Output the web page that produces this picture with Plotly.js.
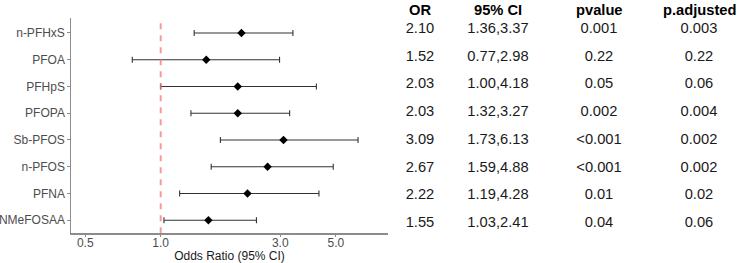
<!DOCTYPE html>
<html>
<head>
<meta charset="utf-8">
<script src="https://cdn.plot.ly/plotly-3.0.1.min.js"></script>
<style>html,body{margin:0;padding:0;background:#fff;}#chart{width:740px;height:263px;}</style>
</head>
<body>
<div id="chart"></div>
<script>
// ---- data (top row first) ----
const compounds = ["n-PFHxS", "PFOA", "PFHpS", "PFOPA", "Sb-PFOS", "n-PFOS", "PFNA", "NMeFOSAA"];
const oddsRatio = [2.10, 1.52, 2.03, 2.03, 3.09, 2.67, 2.22, 1.55];
const ciLow     = [1.36, 0.77, 1.00, 1.32, 1.73, 1.59, 1.19, 1.03];
const ciHigh    = [3.37, 2.98, 4.18, 3.27, 6.13, 4.88, 4.28, 2.41];
const pValue    = ["0.001", "0.22", "0.05", "0.002", "<0.001", "<0.001", "0.01", "0.04"];
const pAdjusted = ["0.003", "0.22", "0.06", "0.004", "0.002", "0.002", "0.02", "0.06"];
const orLabels  = ["2.10", "1.52", "2.03", "2.03", "3.09", "2.67", "2.22", "1.55"];
const ciLabels  = ["1.36,3.37", "0.77,2.98", "1.00,4.18", "1.32,3.27", "1.73,6.13", "1.59,4.88", "1.19,4.28", "1.03,2.41"];
const tableHeaders = ["OR", "95% CI", "pvalue", "p.adjusted"];
const xTickVals = [0.5, 1, 3, 5];
const xTickText = ["0.5", "1.0", "3.0", "5.0"];
const refLine = 1;

// ---- layout constants ----
const W = 740, H = 263;
const FONT = "Liberation Sans, Arial, sans-serif";
const colCenters = [420, 498, 599, 699];   // table column centres (px on hidden axis)
const headerY = 9.5;                       // px from top
const tableTop = 29.3, tableBottom = 223.3; // centres of first / last table rows (px)

const errPlus  = ciHigh.map((h, i) => h - oddsRatio[i]);
const errMinus = oddsRatio.map((o, i) => o - ciLow[i]);

const traces = [];
traces.push({
  type: "scatter", mode: "lines",
  x: [refLine, refLine], y: [0, 1], xaxis: "x", yaxis: "y3",
  line: {color: "rgba(248,118,118,0.75)", width: 2, dash: "6px,6px"},
  hoverinfo: "skip", showlegend: false
});
traces.push({
  type: "scatter", mode: "markers",
  x: oddsRatio, y: compounds, xaxis: "x", yaxis: "y",
  marker: {symbol: "diamond", size: 6.5, color: "#000000"},
  error_x: {type: "data", symmetric: false, array: errPlus, arrayminus: errMinus,
            color: "#333333", thickness: 1.1, width: 3},
  hoverinfo: "skip", showlegend: false
});
const cols = [orLabels, ciLabels, pValue, pAdjusted];
cols.forEach((col, c) => {
  traces.push({
    type: "scatter", mode: "text",
    x: col.map(() => colCenters[c]), y: compounds, text: col,
    xaxis: "x2", yaxis: "y2",
    textfont: {family: FONT, size: 14.7, color: "#1a1a1a"},
    textposition: "middle center",
    hoverinfo: "skip", showlegend: false
  });
});

const annotations = tableHeaders.map((h, c) => ({
  text: "<b>" + h + "</b>", xref: "x2", yref: "paper",
  x: colCenters[c], y: 1 - headerY / H, showarrow: false,
  xanchor: "center", yanchor: "middle",
  font: {family: FONT, size: 14.7, color: "#000000"}
}));

const plotLeft = 71, plotRight = 388, plotTop = 18, plotBottom = 233.3;
const yDom = [1 - plotBottom / H, 1 - plotTop / H];
const step = (tableBottom - tableTop) / 7;
const layout = {
  width: W, height: H,
  margin: {l: 0, r: 0, t: 0, b: 0},
  paper_bgcolor: "#ffffff", plot_bgcolor: "rgba(0,0,0,0)",
  font: {family: FONT, size: 12, color: "#333333"},
  showlegend: false,
  xaxis: {
    type: "log", domain: [plotLeft / W, plotRight / W],
    range: [-0.358, 0.907],
    tickvals: xTickVals, ticktext: xTickText,
    ticks: "outside", ticklen: 2.5, tickcolor: "#8c8c8c", tickwidth: 1,
    ticklabelstandoff: -4,
    showline: true, linecolor: "#8c8c8c", linewidth: 1.2,
    showgrid: false, zeroline: false,
    tickfont: {family: FONT, size: 12, color: "#4d4d4d"},
    title: {text: "Odds Ratio (95% CI)", font: {family: FONT, size: 12, color: "#1a1a1a"}},
    anchor: "y", fixedrange: true
  },
  yaxis: {
    type: "category", domain: yDom,
    categoryorder: "array", categoryarray: compounds.slice().reverse(),
    range: [-0.49, 7.56],
    ticks: "outside", ticklen: 2.5, tickcolor: "#8c8c8c", tickwidth: 1,
    showline: true, linecolor: "#8c8c8c", linewidth: 1.2,
    showgrid: false, zeroline: false,
    tickfont: {family: FONT, size: 12, color: "#4d4d4d"},
    anchor: "x", fixedrange: true
  },
  yaxis3: {
    domain: yDom, range: [0, 1], visible: false, anchor: "x", fixedrange: true
  },
  xaxis2: {
    domain: [0, 1], range: [0, W], visible: false, anchor: "y2", fixedrange: true
  },
  yaxis2: {
    type: "category", domain: [0, 1],
    categoryorder: "array", categoryarray: compounds.slice().reverse(),
    range: [0 - (H - tableBottom) / step, 7 + tableTop / step],
    visible: false, anchor: "x2", fixedrange: true
  },
  annotations: annotations
};

Plotly.newPlot("chart", traces, layout, {staticPlot: true, displayModeBar: false});
</script>
</body>
</html>
